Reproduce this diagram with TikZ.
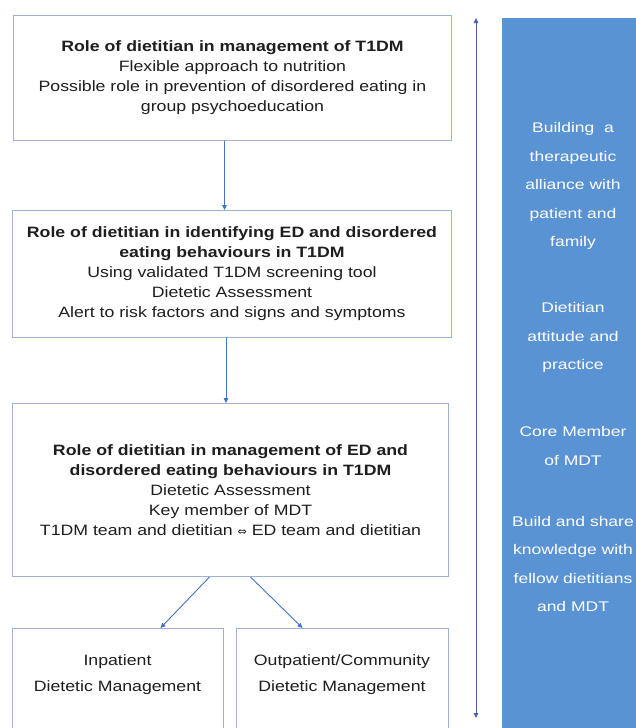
\documentclass[tikz,border=0pt]{standalone}
\usepackage{fontspec}
\setmainfont[FakeStretch=1.18]{Liberation Sans}
\newfontfamily\panelfont[FakeStretch=1.25]{Liberation Sans}
\newfontfamily\symfont{DejaVu Sans}
\usetikzlibrary{arrows.meta}
\definecolor{boxline}{HTML}{9DB1D3}
\definecolor{connblue}{HTML}{4472C4}
\definecolor{vlineblue}{HTML}{4A62A8}
\definecolor{panelblue}{HTML}{5A93D3}
\definecolor{txtgrey}{HTML}{1E1E1E}
\begin{document}
\begin{tikzpicture}[x=1pt,y=-1pt,
  stagebox/.style={draw=boxline, line width=1pt, fill=white, inner sep=0pt,
    anchor=north west, align=center, text=txtgrey,
    font=\fontsize{15}{20}\selectfont},
  plainbox/.style={draw=boxline, line width=1pt, fill=white, inner sep=0pt,
    anchor=north west},
  boxtext/.style={align=center, text=txtgrey, inner sep=0pt,
    font=\fontsize{15}{26}\selectfont},
  connarrow/.style={draw=connblue, line width=0.9pt,
    -{Triangle[length=5pt,width=4.5pt]}},
  spanarrow/.style={draw=vlineblue, line width=0.9pt,
    {Triangle[length=5pt,width=4.5pt]}-{Triangle[length=5pt,width=4.5pt]}},
  paneltext/.style={align=center, text=white, inner sep=0pt,
    font=\panelfont\fontsize{14}{28.5}\selectfont}
]
\clip (0,0) rectangle (636,728);
\fill[white] (0,0) rectangle (636,728);

\node[stagebox, minimum width=438pt, minimum height=125pt] (b1) at (13,15)
  {\textbf{Role of dietitian in management of T1DM}\\
   Flexible approach to nutrition\\
   Possible role in prevention of disordered eating in\\
   group psychoeducation};

\node[stagebox, minimum width=439pt, minimum height=127pt] (b2) at (12,210)
  {\textbf{Role of dietitian in identifying ED and disordered}\\
   \textbf{eating behaviours in T1DM}\\
   Using validated T1DM screening tool\\
   Dietetic Assessment\\
   Alert to risk factors and signs and symptoms};

\node[stagebox, minimum width=436pt, minimum height=173pt] (b3) at (12,403)
  {\textbf{Role of dietitian in management of ED and}\\
   \textbf{disordered eating behaviours in T1DM}\\
   Dietetic Assessment\\
   Key member of MDT\\
   T1DM team and dietitian {\symfont\fontsize{11}{20}\selectfont ⇔} ED team and dietitian};

\node[plainbox, minimum width=211pt, minimum height=130pt] (inp) at (12,628) {};
\node[plainbox, minimum width=212pt, minimum height=130pt] (outp) at (236,628) {};
\node[boxtext] (inptxt) at (117.5,675) {Inpatient\\Dietetic Management};
\node[boxtext] (outptxt) at (342,675) {Outpatient/Community\\Dietetic Management};

\draw[connarrow] ([xshift=-8pt]b1.south) -- ([xshift=-8pt]b1.south |- b2.north);
\draw[connarrow] ([xshift=-6pt]b2.south) -- ([xshift=-6pt]b2.south |- b3.north);
\draw[connarrow] ([xshift=-21pt]b3.south) -- ([xshift=42.5pt]inp.north);
\draw[connarrow] ([xshift=20pt]b3.south) -- ([xshift=-40pt]outp.north);

\coordinate (vtop) at (476,18);
\coordinate (vbot) at (476,718);
\draw[spanarrow] (vtop) -- (vbot);

\node[fill=panelblue, inner sep=0pt, anchor=north west,
  minimum width=140pt, minimum height=720pt] (panel) at (502,18) {};

\node[paneltext] (g1) at (573,186) {Building\ \ a\\therapeutic\\alliance with\\patient and\\family};
\node[paneltext] (g2) at (573,337.5) {Dietitian\\attitude and\\practice};
\node[paneltext] (g3) at (573,446) {Core Member\\of MDT};
\node[paneltext] (g4) at (573,564) {Build and share\\knowledge with\\fellow dietitians\\and MDT};
\end{tikzpicture}
\end{document}
